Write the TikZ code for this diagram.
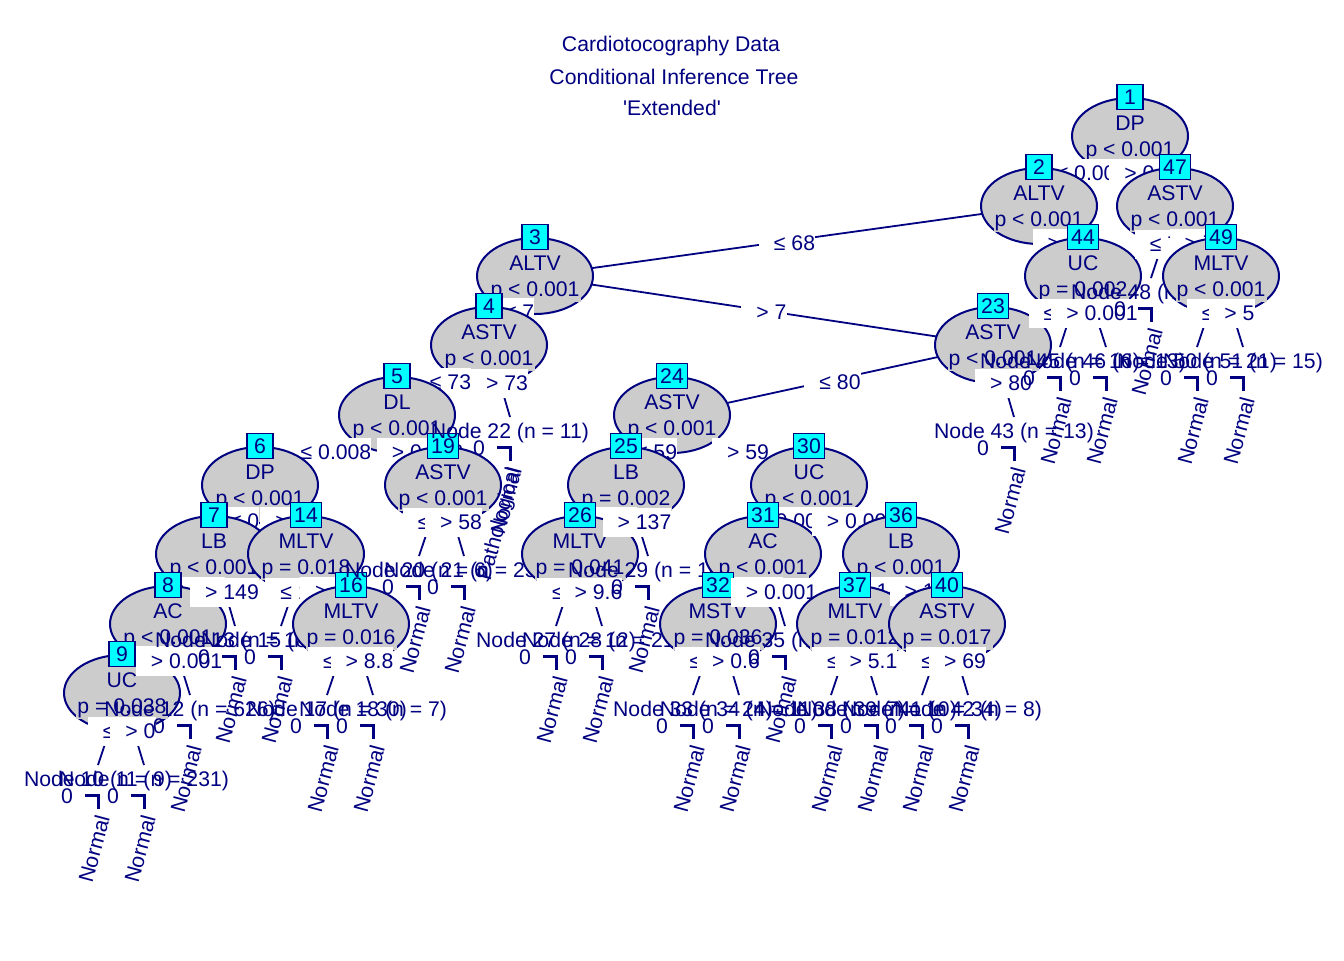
\documentclass[tikz,border=0pt]{standalone}
\usepackage{fontspec}
\setmainfont{Liberation Sans}[Ligatures=TeXOff]
\usetikzlibrary{shapes.geometric}
\definecolor{navy}{HTML}{000080}
\definecolor{grey80}{HTML}{CCCCCC}
\definecolor{boxcyan}{HTML}{00FFFF}
% inner node: id, variable, p value, left kid, right kid
\newcommand{\innernode}[5]{%
  \draw[edgeline] (c#1) -- (c#4);
  \draw[edgeline] (c#1) -- (c#5);
  \node[ellnode] (n#1) at (c#1) {};
  \node[pbox] (p#1) at ([yshift=-7.5pt]c#1) {#3};
  \node[pbox] (v#1) at ([yshift=6.5pt]c#1) {#2};
  \node[idbox] (i#1) at ([yshift=19.5pt]c#1) {#1};}
% terminal node: id, n
\newcommand{\termnode}[2]{%
  \node[termlab] (n#1) at ([yshift=-8pt]c#1) {Node #1 (n = #2)};
  \node[termlab] (z#1) at ([shift={(-31,31)}]c#1) {0};
  \draw[barline] ([shift={(-13,30)}]c#1) -- ([shift={(0,30)}]c#1) -- ([shift={(0,44)}]c#1);
  \node[classlab] (y#1) at ([shift={(-4,84)}]c#1) {Normal};}
\newcommand{\branch}[3]{\path (c#1) -- node[elab] {\hspace*{7.5pt}#3} (c#2);}
\begin{document}
\begin{tikzpicture}[x=0.5pt,y=-0.5pt,
    every node/.style={font=\fontsize{10.6}{12}\selectfont,text=navy},
    ellnode/.style={ellipse,draw=navy,fill=grey80,line width=1pt,minimum width=58pt,minimum height=38pt,inner sep=0pt},
    pbox/.style={fill=grey80,inner sep=0.5pt},
    idbox/.style={draw=navy,fill=boxcyan,line width=0.7pt,inner xsep=1.8pt,inner ysep=0pt,minimum width=13pt,minimum height=12.5pt},
    elab/.style={fill=white,inner xsep=0pt,inner ysep=0pt,minimum height=14.5pt,yshift=-1pt},
    edgeline/.style={draw=navy,line width=0.9pt},
    termlab/.style={inner sep=0pt},
    barline/.style={draw=navy,line width=1.5pt},
    classlab/.style={rotate=75,inner sep=0pt}]
\useasboundingbox (0,0) rectangle (1344,960);
\node (title1) at (671,46) {Cardiotocography Data};
\node (title2) at (674,77) {Conditional Inference Tree};
\node (title3) at (672,108) {'Extended'};
% inner nodes
\coordinate (c1) at (1130,136);
\coordinate (c2) at (1039,206);
\coordinate (c47) at (1175,206);
\coordinate (c3) at (535,276);
\coordinate (c44) at (1083,276);
\coordinate (c49) at (1221,276);
\coordinate (c4) at (489,345);
\coordinate (c23) at (993,345);
\coordinate (c5) at (397,415);
\coordinate (c24) at (672,415);
\coordinate (c6) at (260,485);
\coordinate (c19) at (443,485);
\coordinate (c25) at (626,485);
\coordinate (c30) at (809,485);
\coordinate (c7) at (214,554);
\coordinate (c14) at (306,554);
\coordinate (c26) at (580,554);
\coordinate (c31) at (763,554);
\coordinate (c36) at (901,554);
\coordinate (c8) at (168,624);
\coordinate (c16) at (351,624);
\coordinate (c32) at (718,624);
\coordinate (c37) at (855,624);
\coordinate (c40) at (947,624);
\coordinate (c9) at (122,693);
% terminal nodes
\coordinate (c10) at (98,765);
\coordinate (c11) at (144,765);
\coordinate (c12) at (190,695);
\coordinate (c13) at (235,626);
\coordinate (c15) at (281,626);
\coordinate (c17) at (327,695);
\coordinate (c18) at (373,695);
\coordinate (c20) at (419,556);
\coordinate (c21) at (464,556);
\coordinate (c22) at (510,417);
\coordinate (c27) at (556,626);
\coordinate (c28) at (602,626);
\coordinate (c29) at (648,556);
\coordinate (c33) at (693,695);
\coordinate (c34) at (739,695);
\coordinate (c35) at (785,626);
\coordinate (c38) at (831,695);
\coordinate (c39) at (877,695);
\coordinate (c41) at (922,695);
\coordinate (c42) at (968,695);
\coordinate (c43) at (1014,417);
\coordinate (c45) at (1060,347);
\coordinate (c46) at (1106,347);
\coordinate (c48) at (1151,278);
\coordinate (c50) at (1197,347);
\coordinate (c51) at (1243,347);
% tree, drawn depth first
\innernode{1}{DP}{p < 0.001}{2}{47}
\branch{1}{2}{≤ 0.001}
\innernode{2}{ALTV}{p < 0.001}{3}{44}
\branch{2}{3}{≤ 68}
\innernode{3}{ALTV}{p < 0.001}{4}{23}
\branch{3}{4}{≤ 7}
\innernode{4}{ASTV}{p < 0.001}{5}{22}
\branch{4}{5}{≤ 73}
\innernode{5}{DL}{p < 0.001}{6}{19}
\branch{5}{6}{≤ 0.008}
\innernode{6}{DP}{p < 0.001}{7}{14}
\branch{6}{7}{≤ 0}
\innernode{7}{LB}{p < 0.001}{8}{13}
\branch{7}{8}{≤ 149}
\innernode{8}{AC}{p < 0.001}{9}{12}
\branch{8}{9}{≤ 0.001}
\innernode{9}{UC}{p = 0.038}{10}{11}
\branch{9}{10}{≤ 0}
\termnode{10}{9}
\branch{9}{11}{> 0}
\termnode{11}{231}
\branch{8}{12}{> 0.001}
\termnode{12}{626}
\branch{7}{13}{> 149}
\termnode{13}{18}
\branch{6}{14}{> 0}
\innernode{14}{MLTV}{p = 0.018}{15}{16}
\branch{14}{15}{≤ 10}
\termnode{15}{46}
\branch{14}{16}{> 10}
\innernode{16}{MLTV}{p = 0.016}{17}{18}
\branch{16}{17}{≤ 8.8}
\termnode{17}{30}
\branch{16}{18}{> 8.8}
\termnode{18}{7}
\branch{5}{19}{> 0.008}
\innernode{19}{ASTV}{p < 0.001}{20}{21}
\branch{19}{20}{≤ 58}
\termnode{20}{6}
\branch{19}{21}{> 58}
\termnode{21}{25}
\branch{4}{22}{> 73}
\termnode{22}{11}
\node[classlab,anchor=east] (w22) at ([shift={(5,51)}]c22) {Pathological};
\branch{3}{23}{> 7}
\innernode{23}{ASTV}{p < 0.001}{24}{43}
\branch{23}{24}{≤ 80}
\innernode{24}{ASTV}{p < 0.001}{25}{30}
\branch{24}{25}{≤ 59}
\innernode{25}{LB}{p = 0.002}{26}{29}
\branch{25}{26}{≤ 137}
\innernode{26}{MLTV}{p = 0.041}{27}{28}
\branch{26}{27}{≤ 9.6}
\termnode{27}{12}
\branch{26}{28}{> 9.6}
\termnode{28}{21}
\branch{25}{29}{> 137}
\termnode{29}{16}
\branch{24}{30}{> 59}
\innernode{30}{UC}{p < 0.001}{31}{36}
\branch{30}{31}{≤ 0.002}
\innernode{31}{AC}{p < 0.001}{32}{35}
\branch{31}{32}{≤ 0.001}
\innernode{32}{MSTV}{p = 0.036}{33}{34}
\branch{32}{33}{≤ 0.6}
\termnode{33}{24}
\branch{32}{34}{> 0.6}
\termnode{34}{11}
\branch{31}{35}{> 0.001}
\termnode{35}{19}
\branch{30}{36}{> 0.002}
\innernode{36}{LB}{p < 0.001}{37}{40}
\branch{36}{37}{≤ 141}
\innernode{37}{MLTV}{p = 0.012}{38}{39}
\branch{37}{38}{≤ 5.1}
\termnode{38}{7}
\branch{37}{39}{> 5.1}
\termnode{39}{10}
\branch{36}{40}{> 141}
\innernode{40}{ASTV}{p = 0.017}{41}{42}
\branch{40}{41}{≤ 69}
\termnode{41}{34}
\branch{40}{42}{> 69}
\termnode{42}{8}
\branch{23}{43}{> 80}
\termnode{43}{13}
\branch{2}{44}{> 68}
\innernode{44}{UC}{p = 0.002}{45}{46}
\branch{44}{45}{≤ 0.001}
\termnode{45}{16}
\branch{44}{46}{> 0.001}
\termnode{46}{13}
\branch{1}{47}{> 0.001}
\innernode{47}{ASTV}{p < 0.001}{48}{49}
\branch{47}{48}{≤ 79}
\termnode{48}{12}
\branch{47}{49}{> 79}
\innernode{49}{MLTV}{p < 0.001}{50}{51}
\branch{49}{50}{≤ 5}
\termnode{50}{21}
\branch{49}{51}{> 5}
\termnode{51}{15}
\end{tikzpicture}
\end{document}
